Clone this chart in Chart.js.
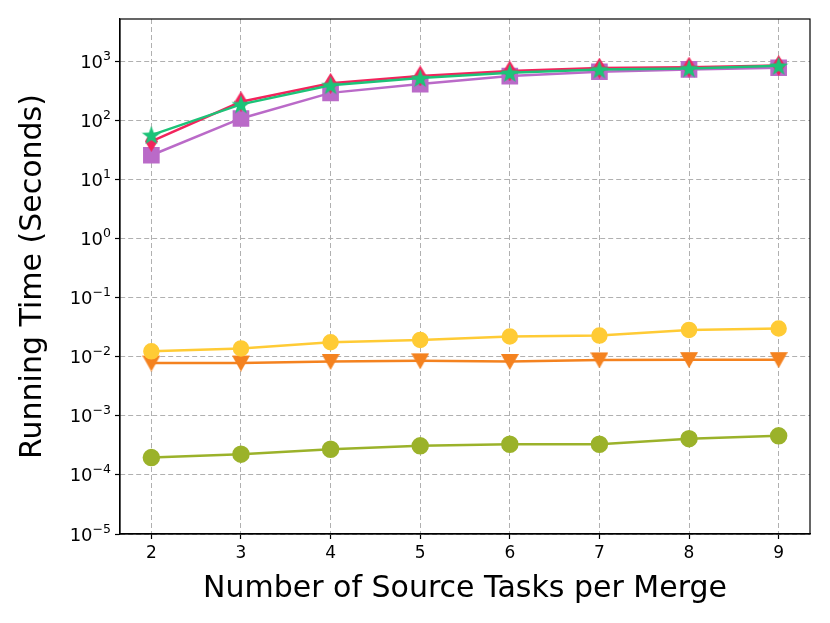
<!DOCTYPE html>
<html>
<head>
<meta charset="utf-8">
<script src="https://cdn.jsdelivr.net/npm/chart.js@4.4.1/dist/chart.umd.min.js"></script>
<style>
  html, body { margin: 0; padding: 0; background: #fff; }
  #wrap { width: 830px; height: 623px; position: relative; }
</style>
</head>
<body>
<div id="wrap"><canvas id="canvas"></canvas></div>
<script>
const sourceTasks = [2, 3, 4, 5, 6, 7, 8, 9];
const yTickValues = [1e-5, 1e-4, 1e-3, 1e-2, 1e-1, 1, 10, 100, 1000];
const yTickExponents = ["−5", "−4", "−3", "−2", "−1", "0", "1", "2", "3"];

const greenStar = [56, 185, 390, 515, 633, 720, 752, 830];
const redDiamond = [44, 205, 420, 560, 680, 760, 790, 840];
const purpleSquare = [25.5, 107, 290, 408, 557, 660, 723, 770];
const yellowCircle = [0.0123, 0.0138, 0.0175, 0.0192, 0.0219, 0.0227, 0.0283, 0.0299];
const orangeTriangle = [0.0078, 0.0078, 0.0083, 0.0085, 0.0083, 0.0088, 0.0089, 0.0089];
const oliveCircle = [0.000196, 0.000224, 0.000272, 0.00031, 0.00033, 0.00033, 0.00041, 0.000457];

function markerCanvas(w, h, color, draw) {
    const c = document.createElement("canvas");
    c.width = w;
    c.height = h;
    const ctx = c.getContext("2d");
    ctx.fillStyle = color;
    ctx.beginPath();
    draw(ctx, w, h);
    ctx.closePath();
    ctx.fill();
    return c;
}

const starImg = markerCanvas(20, 20, "#1DC378", function (ctx, w, h) {
    const cx = w / 2, cy = h / 2 + 0.8, ro = 10, ri = 4.1;
    for (let i = 0; i < 10; i++) {
        const r = i % 2 === 0 ? ro : ri;
        const a = -Math.PI / 2 + i * Math.PI / 5;
        const px = cx + r * Math.cos(a), py = cy + r * Math.sin(a);
        if (i === 0) ctx.moveTo(px, py); else ctx.lineTo(px, py);
    }
});
const diamondImg = markerCanvas(13, 21, "#F2245C", function (ctx, w, h) {
    ctx.moveTo(w / 2, 0);
    ctx.lineTo(w, h / 2);
    ctx.lineTo(w / 2, h);
    ctx.lineTo(0, h / 2);
});
const triDownImg = markerCanvas(18, 17, "#F4821F", function (ctx, w, h) {
    ctx.moveTo(0, 1);
    ctx.lineTo(w, 1);
    ctx.lineTo(w / 2, h);
});

function toPoints(values) {
    return values.map((v, i) => ({ x: sourceTasks[i], y: v }));
}

// frame round the plot, and the y labels drawn as 10 with a raised exponent
const framePlugin = {
    id: "frame",
    afterDraw(chart) {
        const { ctx, chartArea } = chart;
        ctx.save();
        ctx.strokeStyle = "#000";
        ctx.lineWidth = 1.2;
        ctx.strokeRect(chartArea.left, chartArea.top, chartArea.right - chartArea.left, chartArea.bottom - chartArea.top);

        const yScale = chart.scales.y;
        const right = chartArea.left - 9;
        ctx.fillStyle = "#000";
        ctx.textBaseline = "alphabetic";
        ctx.textAlign = "left";
        for (let i = 0; i < yTickValues.length; i++) {
            const y = yScale.getPixelForValue(yTickValues[i]);
            ctx.font = "12.5px 'DejaVu Sans'";
            const expW = ctx.measureText(yTickExponents[i]).width;
            ctx.font = "18px 'DejaVu Sans'";
            const baseW = ctx.measureText("10").width;
            const x0 = right - expW - baseW;
            ctx.fillText("10", x0, y + 6.5);
            ctx.font = "12.5px 'DejaVu Sans'";
            ctx.fillText(yTickExponents[i], x0 + baseW, y - 1.5);
        }
        ctx.restore();
    },
};

const config = {
    type: "line",
    data: {
        datasets: [
            {
                label: "green",
                data: toPoints(greenStar),
                borderColor: "#1DC378",
                backgroundColor: "#1DC378",
                pointStyle: starImg,
                borderWidth: 2.5,
            },
            {
                label: "red",
                data: toPoints(redDiamond),
                borderColor: "#F2245C",
                backgroundColor: "#F2245C",
                pointStyle: diamondImg,
                borderWidth: 2.5,
            },
            {
                label: "purple",
                data: toPoints(purpleSquare),
                borderColor: "#BA6AC8",
                backgroundColor: "#BA6AC8",
                pointStyle: "rect",
                pointRadius: 10,
                borderWidth: 2.5,
            },
            {
                label: "yellow",
                data: toPoints(yellowCircle),
                borderColor: "#FFCB35",
                backgroundColor: "#FFCB35",
                pointStyle: "circle",
                pointRadius: 7,
                borderWidth: 2.5,
            },
            {
                label: "orange",
                data: toPoints(orangeTriangle),
                borderColor: "#F4821F",
                backgroundColor: "#F4821F",
                pointStyle: triDownImg,
                borderWidth: 2.5,
            },
            {
                label: "olive",
                data: toPoints(oliveCircle),
                borderColor: "#9BB22A",
                backgroundColor: "#9BB22A",
                pointStyle: "circle",
                pointRadius: 7.5,
                borderWidth: 2.5,
            },
        ],
    },
    options: {
        animation: false,
        responsive: true,
        maintainAspectRatio: false,
        layout: {
            padding: { top: 19, right: 20, left: 0, bottom: 0 },
        },
        elements: {
            line: { tension: 0 },
            point: { borderWidth: 0, hoverRadius: 8 },
        },
        plugins: {
            legend: { display: false },
            tooltip: { enabled: false },
        },
        scales: {
            x: {
                type: "linear",
                min: 1.65,
                max: 9.35,
                afterBuildTicks: function (scale) {
                    scale.ticks = sourceTasks.map((v) => ({ value: v }));
                },
                afterFit: function (scale) {
                    scale.height = 89;
                },
                ticks: {
                    color: "#000",
                    padding: 4,
                    font: { family: "DejaVu Sans", size: 17 },
                    callback: (value) => String(value),
                },
                grid: {
                    color: "#b0b0b0",
                    lineWidth: 1,
                    tickLength: 5,
                    tickColor: "#000",
                    tickWidth: 1.2,
                },
                border: { display: true, color: "#000", width: 1.2, dash: [5, 3] },
                title: {
                    display: true,
                    text: "Number of Source Tasks per Merge",
                    color: "#000",
                    font: { family: "DejaVu Sans", size: 30 },
                    padding: { top: 0, bottom: 16 },
                },
            },
            y: {
                type: "logarithmic",
                min: 1e-5,
                max: 5150,
                afterBuildTicks: function (scale) {
                    scale.ticks = yTickValues.map((v) => ({ value: v }));
                },
                afterFit: function (scale) {
                    scale.width = 120;
                },
                ticks: {
                    display: false,
                },
                grid: {
                    color: "#b0b0b0",
                    lineWidth: 1,
                    tickLength: 5,
                    tickColor: "#000",
                    tickWidth: 1.2,
                },
                border: { display: true, color: "#000", width: 1.2, dash: [5, 3] },
                title: {
                    display: true,
                    text: "Running Time (Seconds)",
                    color: "#000",
                    font: { family: "DejaVu Sans", size: 30 },
                    padding: { top: 15, bottom: 0 },
                },
            },
        },
    },
    plugins: [framePlugin],
};

let chart;

function initGraph() {
    const context = document.getElementById("canvas");
    chart = new Chart(context, config);
}

initGraph();
</script>
</body>
</html>
